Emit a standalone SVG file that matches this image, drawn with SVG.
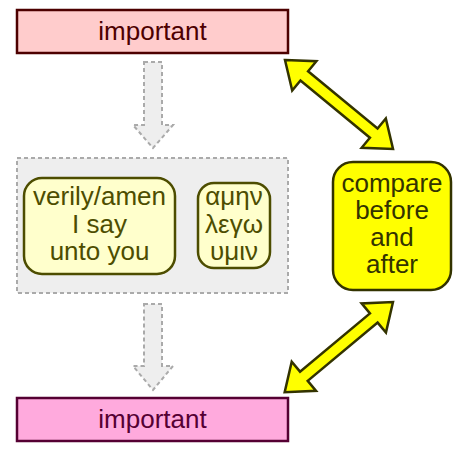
<svg xmlns="http://www.w3.org/2000/svg" width="460" height="460" viewBox="0 0 460 460">
<style>
text{font-family:"Liberation Sans",Arial,sans-serif;font-size:26px;text-anchor:middle}
.dash{fill:#eeeeee;stroke:#aaaaaa;stroke-width:2;stroke-dasharray:4 3}
.inner{fill:#ffffcc;stroke:#4d4d00;stroke-width:2.5}
.inner-t{fill:#4d4d00}
.yarrow{fill:#ffff00;stroke:#333300;stroke-width:2.5;stroke-linejoin:miter}
</style>
<rect width="460" height="460" fill="#ffffff"/>
<g id="connectors">
<polygon class="dash" points="144,62 162,62 162,125 173,125 153,148 133,125 144,125"/>
<polygon class="dash" points="144,304 162,304 162,366 173,366 153,390 133,366 144,366"/>
<polygon class="yarrow" transform="translate(285,60) rotate(39.5)" points="0,0 25,-19 25,-6 115,-6 115,-19 140,0 115,19 115,6 25,6 25,19"/>
<polygon class="yarrow" transform="translate(393,302) rotate(140.2)" points="0,0 25,-19 25,-6 116,-6 116,-19 141,0 116,19 116,6 25,6 25,19"/>
</g>
<g id="top">
<rect x="17" y="10" width="271" height="43" fill="#ffcccc" stroke="#4d0000" stroke-width="2.5"/>
<text x="152.5" y="40" fill="#4d0000">important</text>
</g>
<g id="group">
<rect class="dash" x="17" y="158" width="271" height="135"/>
</g>
<g id="english">
<rect class="inner" x="24" y="178" width="151" height="96" rx="18"/>
<text class="inner-t" x="99.5" y="205">verily/amen</text>
<text class="inner-t" x="99.5" y="233">I say</text>
<text class="inner-t" x="99.5" y="260">unto you</text>
</g>
<g id="greek">
<rect class="inner" x="198" y="183" width="72" height="85" rx="16"/>
<text class="inner-t" x="234" y="205">αμην</text>
<text class="inner-t" x="234" y="233">λεγω</text>
<text class="inner-t" x="234" y="260">υμιν</text>
</g>
<g id="compare">
<rect x="333" y="162" width="118" height="128" rx="20" fill="#ffff00" stroke="#333300" stroke-width="2.5"/>
<text x="392" y="192" fill="#333300">compare</text>
<text x="392" y="218.5" fill="#333300">before</text>
<text x="392" y="245.5" fill="#333300">and</text>
<text x="392" y="273" fill="#333300">after</text>
</g>
<g id="bottom">
<rect x="17" y="398" width="271" height="43" fill="#ffaadd" stroke="#550033" stroke-width="2.5"/>
<text x="152.5" y="428" fill="#550033">important</text>
</g>
</svg>
